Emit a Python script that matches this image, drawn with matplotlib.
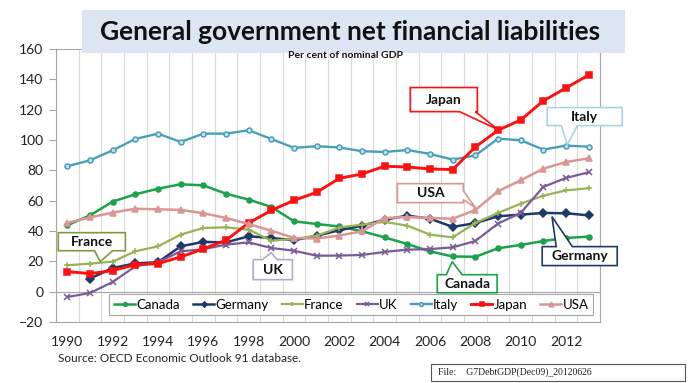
import numpy as np
import matplotlib
matplotlib.use("Agg")
import matplotlib.pyplot as plt
from matplotlib.patches import Polygon, Rectangle

years = list(range(1990, 2014))
canada = [43.8, 50.3, 59.4, 64.2, 67.9, 70.8, 70.1, 64.6, 60.7, 55.9, 46.4, 44.6, 43.0, 39.8, 35.8, 31.4, 26.6, 23.2, 23.0, 28.6, 30.8, 33.4, 35.4, 36.3]
germany = [np.nan, 8.6, 15.6, 18.7, 19.4, 29.9, 32.8, 32.5, 36.5, 35.4, 33.9, 36.9, 40.5, 43.5, 47.5, 50.1, 48.1, 42.7, 45.2, 49.7, 50.8, 51.9, 51.7, 50.3]
france = [17.4, 18.5, 19.8, 26.6, 29.9, 37.6, 42.0, 42.4, 40.9, 33.6, 34.8, 36.9, 42.3, 44.2, 46.0, 43.5, 37.6, 35.8, 45.3, 51.9, 58.0, 63.3, 66.8, 68.2]
uk = [-3.5, -0.9, 6.4, 16.7, 19.4, 26.6, 28.0, 31.0, 32.5, 28.8, 27.0, 23.7, 23.8, 24.2, 26.2, 27.7, 28.1, 29.2, 33.4, 44.9, 51.9, 69.1, 75.0, 78.7]
italy = [82.7, 86.6, 93.2, 100.7, 104.2, 98.7, 104.2, 104.2, 106.4, 100.7, 94.8, 95.9, 95.1, 92.6, 92.1, 93.4, 90.8, 87.1, 89.8, 100.9, 99.8, 93.7, 96.3, 95.6]
japan = [13.2, 11.9, 13.9, 17.8, 18.5, 22.9, 28.2, 33.9, 45.3, 53.6, 60.2, 65.5, 74.7, 77.6, 82.7, 82.2, 80.9, 80.5, 95.4, 106.4, 113.2, 125.8, 134.3, 142.9]
usa = [45.3, 49.0, 52.1, 54.7, 54.3, 53.9, 51.7, 48.6, 44.6, 40.2, 35.4, 35.0, 37.0, 39.8, 48.6, 49.2, 48.6, 48.1, 53.8, 66.2, 73.4, 81.1, 85.5, 87.9]

series_names = ["Canada", "Germany", "France", "UK", "Italy", "Japan", "USA"]
series_vals = [canada, germany, france, uk, italy, japan, usa]
colors = ["#1BA24A", "#1F3A68", "#98B254", "#7A5A98", "#4A9FB8", "#FF1010", "#D99694"]
markers = ["o", "D", "+", "x", "o", "s", "^"]
msizes = [3.6, 3.6, 4.5, 4, 3.6, 4, 4.5]
lws = [1.8, 1.8, 1.6, 1.6, 1.7, 2.1, 1.8]

ytick_vals = list(range(-20, 161, 20))
xtick_years = years[:-1:2]

FONT = "Lato"
plt.rcParams["font.family"] = [FONT, "DejaVu Sans"]

fig = plt.figure(figsize=(6.88, 3.83), dpi=100)
ax = fig.add_axes([56/688, 61/383, 544/688, 273/383])

for name, vals, c, m, ms, lw in zip(series_names, series_vals, colors, markers, msizes, lws):
    mfc = "#BFE3EE" if name == "Italy" else c
    ax.plot(years, vals, color=c, lw=lw, marker=m, ms=ms, mfc=mfc, mec=c,
            mew=1.1, label=name, zorder=3)

ax.set_xlim(1989.5, 2013.5)
ax.set_ylim(-20, 160)
ax.set_yticks(ytick_vals)
ax.set_xticks(xtick_years)
ax.set_xticklabels([str(y) for y in xtick_years])
for xv in np.arange(1989.5, 2013.6, 1.0):
    ax.axvline(xv, color="#D9D9D9", lw=0.8, zorder=0)
ax.axhline(0, color="#A6A6A6", lw=0.8, zorder=1)
for s in ax.spines.values():
    s.set_color("#A6A6A6")
    s.set_linewidth(0.8)
ax.tick_params(axis="y", length=5, color="#A6A6A6", labelsize=10, pad=4, labelcolor="#222222")
ax.tick_params(axis="x", length=0, labelsize=10, pad=10, labelcolor="#222222")

leg = ax.legend(loc="lower left", bbox_to_anchor=(0.086, 0.0, 0.914, 0.09), mode="expand",
                ncol=7, fontsize=9.5, frameon=True, fancybox=False, edgecolor="#A6A6A6",
                handlelength=1.6, handletextpad=0.1, columnspacing=0.6, borderpad=0.35,
                framealpha=1, markerscale=0.75)
leg.get_frame().set_linewidth(0.8)

def callout(text, box, base, tip, ec, fs=10, lw=1.2, fc="white"):
    (x0, y0, x1, y1) = box
    side, b0, b1 = base
    if side == "bottom":
        pts = [(x0, y1), (x0, y0), (b0, y0), tip, (b1, y0), (x1, y0), (x1, y1)]
    elif side == "top":
        pts = [(x0, y0), (x1, y0), (x1, y1), (b1, y1), tip, (b0, y1), (x0, y1)]
    elif side == "right":
        pts = [(x0, y0), (x1, y0), (x1, b0), tip, (x1, b1), (x1, y1), (x0, y1)]
    p = Polygon(pts, closed=True, fc=fc, ec=ec, lw=lw, zorder=6, clip_on=False)
    ax.add_patch(p)
    ax.text((x0 + x1) / 2, (y0 + y1) / 2, text, ha="center", va="center",
            fontsize=fs, fontweight="bold", color="#111111", zorder=7, clip_on=False)

# boxes: (x_left, y_bottom, x_right, y_top)
callout("France", (1989.60, 27.0, 1992.56, 38.9), ("bottom", 1991.2, 1992.0), (1991.45, 19.8), "#7F9A3C")
callout("UK", (1998.20, 7.9, 1999.93, 21.1), ("top", 1998.6, 1999.26), (1999.0, 25.7), "#B8A9CC")
callout("Canada", (2006.32, -0.7, 2008.96, 11.2), ("top", 2006.72, 2007.42), (2006.98, 19.8), "#1BA24A")
callout("USA", (2004.56, 58.7, 2007.47, 71.2), ("right", 60.7, 66.5), (2008.0, 55.4), "#D99694")
callout("Japan", (2005.13, 118.7, 2008.09, 134.6), ("bottom", 2007.3, 2008.0), (2009.0, 106.9), "#FF1010")
callout("Italy", (2011.17, 109.5, 2014.48, 121.4), ("bottom", 2011.79, 2012.5), (2012.06, 97.0), "#A9D4E4")
callout("Germany", (2010.95, 17.2, 2014.26, 29.7), ("top", 2011.57, 2012.28), (2011.38, 49.5), "#1F3A68")

# title box
fig.patches.append(Rectangle((82/688, 1 - 53/383), (625-82)/688, 43/383, transform=fig.transFigure,
                             fc="#DCE6F2", ec="none", zorder=5))
fig.text(350/688, 1 - 32/383, "General government net financial liabilities", ha="center", va="center",
         fontsize=19, fontweight="bold", color="#111111", zorder=6)
fig.text(345/688, 1 - 56/383, "Per cent of nominal GDP", ha="center", va="center",
         fontsize=7.5, fontweight="bold", color="#111111", zorder=6)

fig.text(58/688, 1 - 359/383, "Source: OECD Economic Outlook 91 database.", ha="left", va="center",
         fontsize=8.5, color="#222222")
fig.patches.append(Rectangle((431/688, 1 - 381/383), 254/688, 17/383, transform=fig.transFigure,
                             fc="white", ec="#555555", lw=0.8))
fig.text(438/688, 1 - 372/383, "File:    G7DebtGDP(Dec09)_20120626", ha="left", va="center",
         fontsize=7, color="#222222", family="Liberation Serif")

fig.savefig("out.png", dpi=100)
